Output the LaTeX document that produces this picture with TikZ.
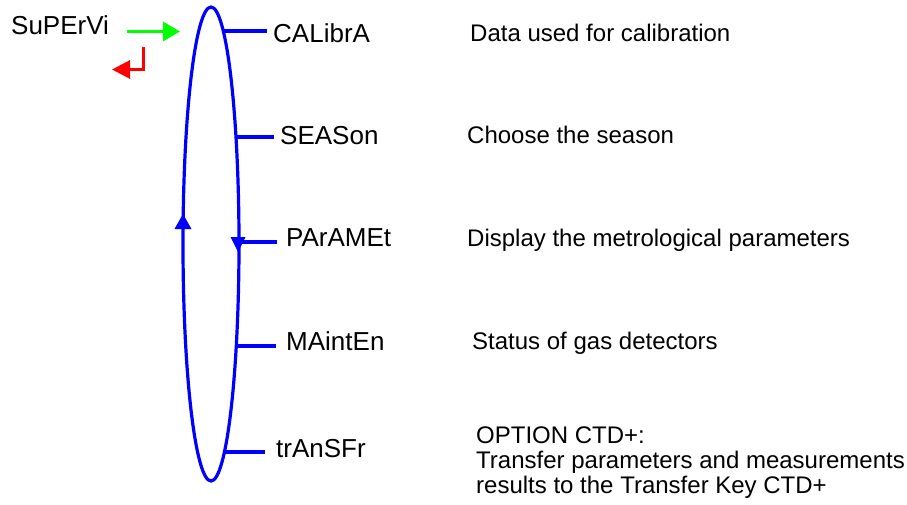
\documentclass[tikz,border=0pt]{standalone}
\usepackage{fontspec}
\setmainfont{Liberation Sans}
\usetikzlibrary{arrows.meta,shapes.geometric}
\definecolor{loopblue}{RGB}{0,0,255}
\definecolor{entergreen}{RGB}{0,255,0}
\definecolor{backred}{RGB}{255,0,0}
\begin{document}
\begin{tikzpicture}[x=1pt,y=-1pt,
  menu/.style={anchor=base west,inner sep=0pt,font=\fontsize{26}{31}\selectfont},
  info/.style={anchor=base west,inner sep=0pt,font=\fontsize{24}{25}\selectfont,align=left},
  tick/.style={draw=loopblue,line width=3.2pt},
  loophead/.style={fill=loopblue}]
\useasboundingbox (0,0) rectangle (907,504);

% menu entries
\node[menu] (sup) at (11,34) {SuPErVi};
\node[menu] (cal) at (273,42) {CALibrA};
\node[menu] (sea) at (280,144) {SEASon};
\node[menu] (par) at (286,246) {PArAMEt};
\node[menu] (mai) at (286,350) {MAintEn};
\node[menu] (tra) at (276,457) {trAnSFr};

% descriptions
\node[info] (dcal) at (470,41) {Data used for calibration};
\node[info] (dsea) at (467,143) {Choose the season};
\node[info] (dpar) at (467,246) {Display the metrological parameters};
\node[info] (dmai) at (472,349) {Status of gas detectors};
\node[info] (dtra1) at (476,443) {OPTION CTD+:};
\node[info] (dtra2) at (476,468) {Transfer parameters and measurements};
\node[info] (dtra3) at (476,493) {results to the Transfer Key CTD+};

% ticks from the loop to each entry
\coordinate (ecal) at (222,31);
\coordinate (esea) at (235,137);
\coordinate (epar) at (238,242);
\coordinate (emai) at (235,346);
\coordinate (etra) at (224,452);
\coordinate (tcal) at (267,31);
\coordinate (tsea) at (274,137);
\coordinate (tpar) at (277,242);
\coordinate (tmai) at (276,346);
\coordinate (ttra) at (265,452);
\draw[tick] (ecal) -- (tcal);
\draw[tick] (esea) -- (tsea);
\draw[tick] (epar) -- (tpar);
\draw[tick] (emai) -- (tmai);
\draw[tick] (etra) -- (ttra);

% the menu loop
\node[ellipse,draw=loopblue,line width=3.2pt,inner sep=0pt,outer sep=0pt,
      minimum width=56pt,minimum height=474pt] (loop) at (211,244) {};
\fill[loophead] (183,214) -- (174.5,229) -- (191.5,229) -- cycle;
\fill[loophead] (238,252) -- (230.5,237) -- (245.5,237) -- cycle;

% enter and exit keys
\coordinate (gin) at (127,31.5);
\coordinate (gout) at (180,31.5);
\draw[entergreen,line width=3pt,-{Triangle[length=17pt,width=19pt]}] (gin) -- (gout);
\coordinate (rin) at (143,47);
\coordinate (rout) at (112,69.5);
\draw[backred,line width=3pt,-{Triangle[length=18pt,width=18pt]}] (rin) |- (rout);
\end{tikzpicture}
\end{document}
